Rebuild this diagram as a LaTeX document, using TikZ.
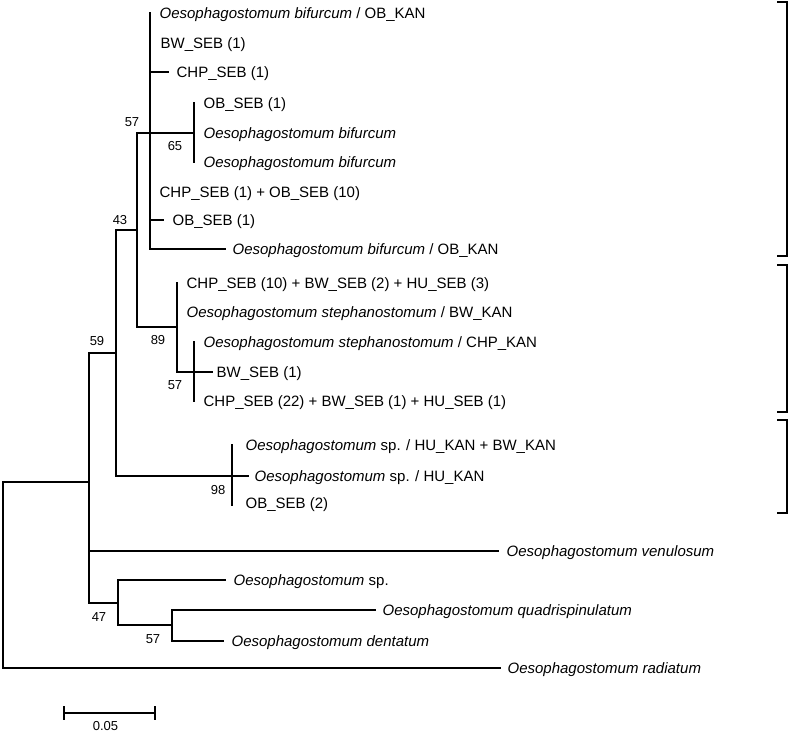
\documentclass[tikz,border=0pt]{standalone}
\usepackage{fontspec}
\setmainfont{Liberation Sans}
\begin{document}
\begin{tikzpicture}[x=1pt,y=-1pt, line width=1.2pt, line cap=rect,
  tiptext/.style={anchor=base west, inner sep=0pt, font=\fontsize{15}{18}\selectfont, yshift=-5.4pt},
  bs/.style={inner sep=0pt, font=\fontsize{13}{15}\selectfont},
  bracketline/.style={line width=2.4pt, line cap=butt}]
\useasboundingbox (0,0) rectangle (790,733);
% internal nodes
\coordinate (root) at (3,482);
\coordinate (n1) at (89,482);
\coordinate (n59) at (116,353);
\coordinate (n43) at (137,230);
\coordinate (nA) at (150,133);
\coordinate (n65) at (194,133);
\coordinate (n89) at (177,327);
\coordinate (n57b) at (194,372);
\coordinate (n98) at (232,476);
\coordinate (n47) at (118,603);
\coordinate (n57c) at (172,625);
% branch ends
\coordinate (t0) at (150,13);
\coordinate (t1) at (150,43);
\coordinate (t2) at (168,72);
\coordinate (t3) at (194,103);
\coordinate (t4) at (194,133);
\coordinate (t5) at (194,162);
\coordinate (t6) at (150,192);
\coordinate (t7) at (163,220);
\coordinate (t8) at (225,249);
\coordinate (t9) at (177,283);
\coordinate (t10) at (177,312);
\coordinate (t11) at (194,342);
\coordinate (t12) at (212,372);
\coordinate (t13) at (194,401);
\coordinate (t14) at (232,445);
\coordinate (t15) at (248,476);
\coordinate (t16) at (232,505);
\coordinate (t17) at (498,551);
\coordinate (t18) at (225,580);
\coordinate (t19) at (375,610);
\coordinate (t20) at (223,641);
\coordinate (t21) at (500,668);
% tree lines
\draw (root |- t21) -- (t21);
\draw (root |- t21) -- (root) -- (n1);
\draw (n1 |- n59) -- (n1 |- n47);
\draw (n1 |- t17) -- (t17);
\draw (n1 |- n59) -- (n59);
\draw (n1 |- n47) -- (n47);
\draw (n59 |- n43) -- (n59 |- n98);
\draw (n59 |- n43) -- (n43);
\draw (n59 |- n98) -- (n98);
\draw (n43 |- nA) -- (n43 |- n89);
\draw (n43 |- nA) -- (n65);
\draw (n43 |- n89) -- (n89);
\draw (nA |- t0) -- (nA |- t8);
\draw (nA |- t2) -- (t2);
\draw (nA |- t7) -- (t7);
\draw (nA |- t8) -- (t8);
\draw (t3) -- (t5);
\draw (n89 |- t9) -- (n89 |- n57b) -- (t12);
\draw (t11) -- (t13);
\draw (t14) -- (t16);
\draw (n98) -- (t15);
\draw (n47 |- t18) -- (n47 |- n57c);
\draw (n47 |- t18) -- (t18);
\draw (n47 |- n57c) -- (n57c);
\draw (n57c |- t19) -- (n57c |- t20);
\draw (n57c |- t19) -- (t19);
\draw (n57c |- t20) -- (t20);
% tip labels
\node[tiptext] (l0) at (159,13) {\textit{Oesophagostomum bifurcum} / OB\_KAN};
\node[tiptext] (l1) at (160,43) {BW\_SEB (1)};
\node[tiptext] (l2) at (176,72) {CHP\_SEB (1)};
\node[tiptext] (l3) at (203,103) {OB\_SEB (1)};
\node[tiptext] (l4) at (203,133) {\textit{Oesophagostomum bifurcum}};
\node[tiptext] (l5) at (203,162) {\textit{Oesophagostomum bifurcum}};
\node[tiptext] (l6) at (159,192) {CHP\_SEB (1) + OB\_SEB (10)};
\node[tiptext] (l7) at (172,220) {OB\_SEB (1)};
\node[tiptext] (l8) at (232,249) {\textit{Oesophagostomum bifurcum} / OB\_KAN};
\node[tiptext] (l9) at (186,283) {CHP\_SEB (10) + BW\_SEB (2) + HU\_SEB (3)};
\node[tiptext] (l10) at (186,312) {\textit{Oesophagostomum stephanostomum} / BW\_KAN};
\node[tiptext] (l11) at (203,342) {\textit{Oesophagostomum stephanostomum} / CHP\_KAN};
\node[tiptext] (l12) at (216,372) {BW\_SEB (1)};
\node[tiptext] (l13) at (203,401) {CHP\_SEB (22) + BW\_SEB (1) + HU\_SEB (1)};
\node[tiptext] (l14) at (245,445) {\textit{Oesophagostomum} sp. / HU\_KAN + BW\_KAN};
\node[tiptext] (l15) at (254,476) {\textit{Oesophagostomum} sp. / HU\_KAN};
\node[tiptext] (l16) at (245,503) {OB\_SEB (2)};
\node[tiptext] (l17) at (506,551) {\textit{Oesophagostomum venulosum}};
\node[tiptext] (l18) at (233,580) {\textit{Oesophagostomum} sp.};
\node[tiptext] (l19) at (382,610) {\textit{Oesophagostomum quadrispinulatum}};
\node[tiptext] (l20) at (231,641) {\textit{Oesophagostomum dentatum}};
\node[tiptext] (l21) at (507,668) {\textit{Oesophagostomum radiatum}};
% bootstrap values
\node[bs] (b57a) at (132,122) {57};
\node[bs] (b65) at (175,146) {65};
\node[bs] (b43) at (120,220) {43};
\node[bs] (b59) at (97,341) {59};
\node[bs] (b89) at (158,340) {89};
\node[bs] (b57b) at (175,385) {57};
\node[bs] (b98) at (218,490) {98};
\node[bs] (b47) at (99,617) {47};
\node[bs] (b57c) at (153,639) {57};
% scale bar
\coordinate (s0) at (64,713);
\coordinate (s1) at (155,713);
\draw (s0) -- (s1);
\draw (s0) ++(0,-6) -- ++(0,12);
\draw (s1) ++(0,-6) -- ++(0,12);
\node[bs] (sl) at (105.5,726) {0.05};
% brackets
\draw[bracketline] (777,2) -- (787,2) -- (787,256) -- (777,256);
\draw[bracketline] (777,265) -- (787,265) -- (787,412) -- (777,412);
\draw[bracketline] (777,420) -- (787,420) -- (787,513) -- (777,513);
\end{tikzpicture}
\end{document}
